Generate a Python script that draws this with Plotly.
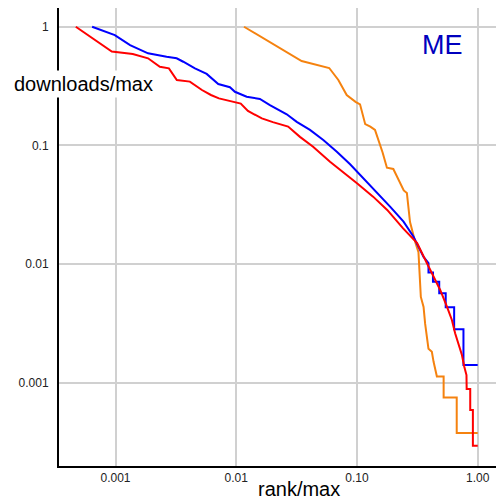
import plotly.graph_objects as go

# rank/max vs downloads/max
blue_rank = [0.00064, 0.000987, 0.00132, 0.00186, 0.00265, 0.00321, 0.00364, 0.00455,
             0.00569, 0.0071, 0.00887, 0.00975, 0.0122, 0.0157, 0.019, 0.0262, 0.0317,
             0.0408, 0.0526, 0.0681, 0.0877, 0.113, 0.146, 0.188, 0.243, 0.294, 0.323,
             0.356, 0.391, 0.391, 0.426, 0.426, 0.48, 0.48, 0.543, 0.543, 0.638, 0.638,
             0.762, 0.762, 1.0]
blue_dl = [1.0, 0.851, 0.701, 0.597, 0.559, 0.542, 0.507, 0.446, 0.4, 0.329, 0.309, 0.283,
           0.257, 0.246, 0.219, 0.183, 0.158, 0.135, 0.111, 0.0885, 0.0693, 0.0528, 0.0408,
           0.0305, 0.0228, 0.017, 0.014, 0.0115, 0.0102, 0.00847, 0.00847, 0.00711, 0.00711,
           0.00568, 0.00568, 0.00432, 0.00432, 0.00282, 0.00282, 0.00141, 0.00141]

red_rank = [0.000469, 0.000932, 0.00139, 0.00186, 0.00233, 0.00277, 0.00322, 0.00413,
            0.0052, 0.00617, 0.00719, 0.0094, 0.0109, 0.0125, 0.0163, 0.0201, 0.0269,
            0.0337, 0.0433, 0.0598, 0.0828, 0.1, 0.136, 0.178, 0.241, 0.315, 0.379, 0.431,
            0.489, 0.556, 0.611, 0.65, 0.693, 0.74, 0.773, 0.807, 0.81, 0.867, 0.867,
            0.912, 0.912, 1.0]
red_dl = [1.0, 0.618, 0.589, 0.542, 0.46, 0.446, 0.356, 0.345, 0.293, 0.266, 0.249, 0.234,
          0.225, 0.195, 0.169, 0.157, 0.144, 0.118, 0.0975, 0.0729, 0.0563, 0.048, 0.037,
          0.0286, 0.02, 0.015, 0.0102, 0.00783, 0.00605, 0.00438, 0.00338, 0.00261, 0.00215,
          0.00171, 0.00137, 0.00116, 0.000887, 0.000887, 0.00059, 0.00059, 0.000294, 0.000294]

orange_rank = [0.0116, 0.0348, 0.0589, 0.0701, 0.0822, 0.0973, 0.106, 0.117, 0.129, 0.141,
               0.163, 0.177, 0.2, 0.244, 0.259, 0.275, 0.303, 0.323, 0.338, 0.356, 0.367,
               0.391, 0.417, 0.431, 0.459, 0.522, 0.522, 0.67, 0.67, 1.0]
orange_dl = [1.0, 0.514, 0.449, 0.356, 0.266, 0.233, 0.222, 0.151, 0.144, 0.135, 0.0871,
             0.0649, 0.0633, 0.0417, 0.0397, 0.0226, 0.0154, 0.0126, 0.00528, 0.00435,
             0.00313, 0.00193, 0.00182, 0.0015, 0.00113, 0.00113, 0.000752, 0.000752,
             0.000376, 0.000376]

tick_vals = [0.001, 0.01, 0.1, 1]
x_tick_text = ["0.001", "0.01", "0.10", "1.00"]
y_tick_text = ["0.001", "0.01", "0.1", "1"]

fig = go.Figure()
fig.add_trace(go.Scatter(x=orange_rank, y=orange_dl, mode="lines",
                         line=dict(color="#f5820f", width=2)))
fig.add_trace(go.Scatter(x=blue_rank, y=blue_dl, mode="lines",
                         line=dict(color="#0000ff", width=2)))
fig.add_trace(go.Scatter(x=red_rank, y=red_dl, mode="lines",
                         line=dict(color="#ff0000", width=2)))

font = "Liberation Sans, Arial, sans-serif"
# page body keeps its 8px margin, so the figure is 496 wide/high
fig.update_layout(
    width=496, height=496,
    margin=dict(l=51, r=6, t=0, b=38),
    plot_bgcolor="white", paper_bgcolor="white",
    showlegend=False,
    font=dict(family=font, size=12, color="#222"),
    xaxis=dict(type="log", range=[-3.468, 0.168], tickvals=tick_vals,
               ticktext=x_tick_text, showgrid=True, gridcolor="#d0d0d0",
               gridwidth=2, showline=True, linecolor="black", linewidth=2,
               zeroline=False, ticks="", automargin=False),
    yaxis=dict(type="log", range=[-3.702, 0.158], tickvals=tick_vals,
               ticktext=y_tick_text, showgrid=True, gridcolor="#d0d0d0",
               gridwidth=2, showline=True, linecolor="black", linewidth=2,
               zeroline=False, ticks="", ticklabelstandoff=6, automargin=False),
    annotations=[
        dict(text="downloads/max", xref="paper", yref="paper", x=0.0558, y=0.835,
             xanchor="center", yanchor="middle", showarrow=False,
             bgcolor="white", borderpad=2, font=dict(size=20, color="black")),
        dict(text="rank/max", xref="paper", yref="paper", x=0.5467, y=-0.05,
             xanchor="center", yanchor="middle", showarrow=False,
             font=dict(size=20, color="black")),
        dict(text="ME", xref="paper", yref="paper", x=0.8747, y=0.919,
             xanchor="center", yanchor="middle", showarrow=False,
             font=dict(size=27, color="#0000be")),
    ],
)

fig.write_html("out.html")
